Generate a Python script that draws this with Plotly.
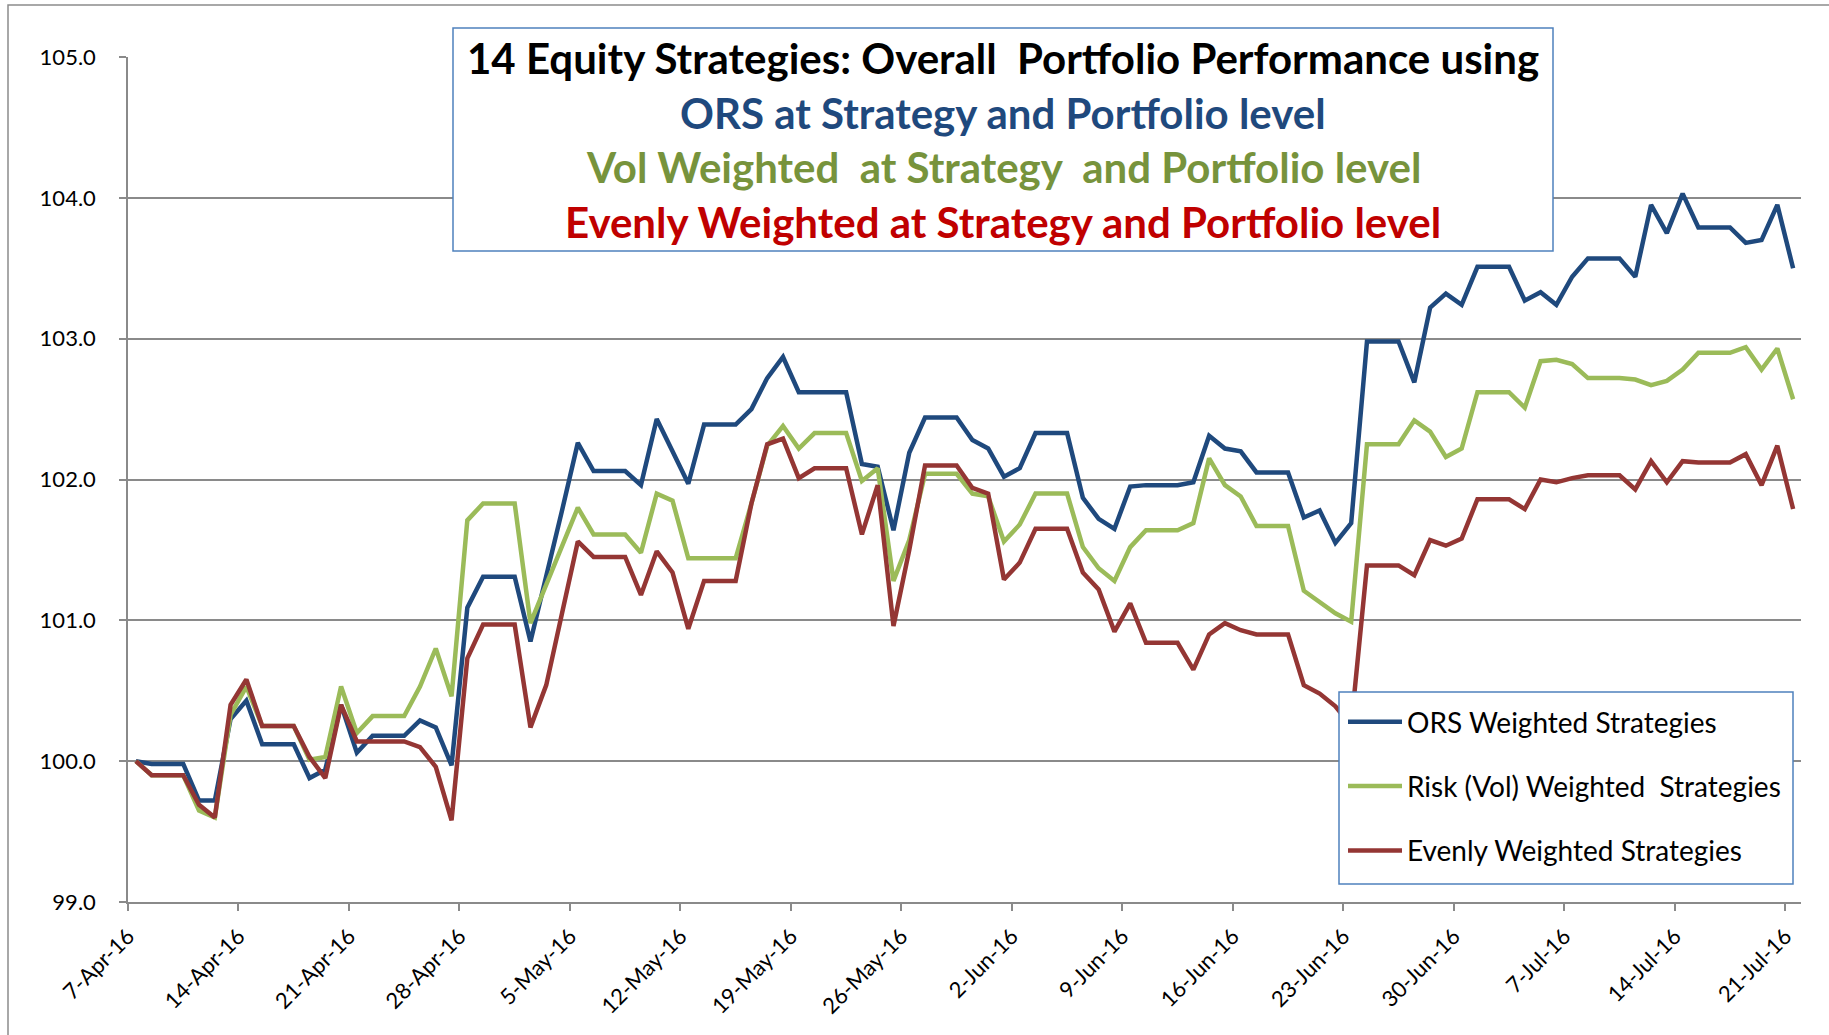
import pandas as pd
import plotly.graph_objects as go

# ---- data (daily, 7-Apr-16 .. 21-Jul-16, weekends carry Friday value) ----
dates = pd.date_range("2016-04-07", "2016-07-21", freq="D") + pd.Timedelta(hours=12)

ors = [
    100.00, 99.98, 99.98, 99.98, 99.72, 99.72, 100.30, 100.43, 100.12, 100.12,
    100.12, 99.88, 99.94, 100.40, 100.06, 100.18, 100.18, 100.18, 100.29, 100.24,
    99.97, 101.09, 101.31, 101.31, 101.31, 100.85, 101.30, 101.78, 102.26, 102.06,
    102.06, 102.06, 101.96, 102.43, 102.20, 101.97, 102.39, 102.39, 102.39, 102.50,
    102.72, 102.87, 102.62, 102.62, 102.62, 102.62, 102.11, 102.09, 101.64, 102.19,
    102.44, 102.44, 102.44, 102.28, 102.22, 102.02, 102.08, 102.33, 102.33, 102.33,
    101.87, 101.72, 101.65, 101.95, 101.96, 101.96, 101.96, 101.98, 102.31, 102.22,
    102.20, 102.05, 102.05, 102.05, 101.73, 101.78, 101.55, 101.69, 102.98, 102.98,
    102.98, 102.69, 103.22, 103.32, 103.24, 103.51, 103.51, 103.51, 103.27, 103.33,
    103.24, 103.44, 103.57, 103.57, 103.57, 103.44, 103.95, 103.75, 104.03, 103.79,
    103.79, 103.79, 103.68, 103.70, 103.95, 103.50,
]

vol = [
    100.00, 99.90, 99.90, 99.90, 99.65, 99.60, 100.33, 100.53, 100.25, 100.25,
    100.25, 100.01, 100.03, 100.53, 100.20, 100.32, 100.32, 100.32, 100.53, 100.80,
    100.46, 101.71, 101.83, 101.83, 101.83, 100.98, 101.25, 101.52, 101.80, 101.61,
    101.61, 101.61, 101.48, 101.90, 101.85, 101.44, 101.44, 101.44, 101.44, 101.83,
    102.24, 102.38, 102.22, 102.33, 102.33, 102.33, 101.99, 102.08, 101.28, 101.57,
    102.04, 102.04, 102.04, 101.90, 101.88, 101.56, 101.68, 101.90, 101.90, 101.90,
    101.52, 101.37, 101.28, 101.52, 101.64, 101.64, 101.64, 101.69, 102.15, 101.96,
    101.88, 101.67, 101.67, 101.67, 101.21, 101.13, 101.05, 100.99, 102.25, 102.25,
    102.25, 102.42, 102.34, 102.16, 102.22, 102.62, 102.62, 102.62, 102.51, 102.84,
    102.85, 102.82, 102.72, 102.72, 102.72, 102.71, 102.67, 102.70, 102.78, 102.90,
    102.90, 102.90, 102.94, 102.78, 102.93, 102.57,
]

even = [
    100.00, 99.90, 99.90, 99.90, 99.69, 99.60, 100.40, 100.58, 100.25, 100.25,
    100.25, 100.03, 99.88, 100.40, 100.14, 100.14, 100.14, 100.14, 100.10, 99.96,
    99.58, 100.73, 100.97, 100.97, 100.97, 100.24, 100.54, 101.05, 101.56, 101.45,
    101.45, 101.45, 101.18, 101.49, 101.34, 100.94, 101.28, 101.28, 101.28, 101.83,
    102.25, 102.29, 102.01, 102.08, 102.08, 102.08, 101.61, 101.96, 100.96, 101.50,
    102.10, 102.10, 102.10, 101.94, 101.90, 101.29, 101.41, 101.65, 101.65, 101.65,
    101.34, 101.22, 100.92, 101.12, 100.84, 100.84, 100.84, 100.65, 100.90, 100.98,
    100.93, 100.90, 100.90, 100.90, 100.54, 100.48, 100.39, 100.25, 101.39, 101.39,
    101.39, 101.32, 101.57, 101.53, 101.58, 101.86, 101.86, 101.86, 101.79, 102.00,
    101.98, 102.01, 102.03, 102.03, 102.03, 101.93, 102.13, 101.98, 102.13, 102.12,
    102.12, 102.12, 102.18, 101.96, 102.24, 101.79,
]

series_names = ["ORS Weighted Strategies", "Risk (Vol) Weighted  Strategies", "Evenly Weighted Strategies"]
title_lines = [
    "14 Equity Strategies: Overall  Portfolio Performance using",
    "ORS at Strategy and Portfolio level",
    "Vol Weighted  at Strategy  and Portfolio level",
    "Evenly Weighted at Strategy and Portfolio level",
]

# ---- styling ----
W, H = 1829, 1035
PL, PR, PT, PB = 128, 1801, 57, 902
FONT = "Lato"
GRID = "#8A8A8A"
line_colors = ["#1F497D", "#9BBB59", "#943634"]
title_colors = ["#000000", "#1F497D", "#77933C", "#C00000"]


def px(x):
    return (x - PL) / (PR - PL)


def py(y):
    return (PB - y) / (PB - PT)


fig = go.Figure()
for i, (name, vals) in enumerate(zip(series_names, [ors, vol, even])):
    fig.add_trace(go.Scatter(
        x=dates, y=vals, mode="lines", name=name,
        line=dict(color=line_colors[i], width=4.5),
        legendgroup=f"g{i}",
    ))

shapes = [
    # outer chart border (left + top visible)
    dict(type="rect", xref="paper", yref="paper",
         x0=px(8), x1=px(W + 10), y0=py(5), y1=py(H + 10),
         line=dict(color="#8C8C8C", width=1.5), fillcolor="rgba(0,0,0,0)", layer="below"),
    # title box
    dict(type="rect", xref="paper", yref="paper",
         x0=px(453), x1=px(1553), y0=py(28), y1=py(251),
         line=dict(color="#4F81BD", width=1.5), fillcolor="white", layer="above"),
    # legend box
    dict(type="rect", xref="paper", yref="paper",
         x0=px(1339), x1=px(1793), y0=py(692), y1=py(884),
         line=dict(color="#4F81BD", width=1.5), fillcolor="white", layer="above"),
]

annotations = []
title_y = [58, 113, 167, 222]
for txt, col, yy in zip(title_lines, title_colors, title_y):
    annotations.append(dict(
        xref="paper", yref="paper", x=px(1003), y=py(yy),
        xanchor="center", yanchor="middle", showarrow=False,
        text=f"<b>{txt}</b>", font=dict(family=FONT, size=42, color=col),
    ))

fig.update_layout(
    width=W, height=H,
    margin=dict(l=PL, r=W - PR, t=PT, b=H - PB, pad=0),
    paper_bgcolor="white", plot_bgcolor="white",
    font=dict(family=FONT, color="black"),
    shapes=shapes, annotations=annotations,
    showlegend=True,
    legend=dict(
        x=px(1343), y=py(697), xanchor="left", yanchor="top",
        bgcolor="rgba(0,0,0,0)", borderwidth=0,
        font=dict(family=FONT, size=28, color="black"),
        tracegroupgap=25, itemwidth=54,
    ),
    xaxis=dict(
        type="date",
        range=["2016-04-07", "2016-07-22"],
        tick0="2016-04-07", dtick=7 * 24 * 3600 * 1000,
        tickformat="%-d-%b-%y", tickangle=-45,
        ticks="outside", ticklen=7, tickcolor=GRID, tickwidth=1.5,
        showline=True, linecolor=GRID, linewidth=1.5,
        showgrid=False, zeroline=False,
        tickfont=dict(family=FONT, size=22, color="black"),
        ticklabelstandoff=4,
    ),
    yaxis=dict(
        range=[99, 105], dtick=1, tick0=99, tickformat=".1f",
        ticks="outside", ticklen=7, tickcolor=GRID, tickwidth=1.5,
        showline=True, linecolor=GRID, linewidth=1.5,
        showgrid=True, gridcolor=GRID, gridwidth=1.5, zeroline=False,
        tickfont=dict(family=FONT, size=22, color="black"),
        ticklabelstandoff=19,
    ),
)

fig.write_html(
    "out.html",
    config={"displayModeBar": False},
    post_script="document.body.style.margin='0px';document.body.style.overflow='hidden';",
)
